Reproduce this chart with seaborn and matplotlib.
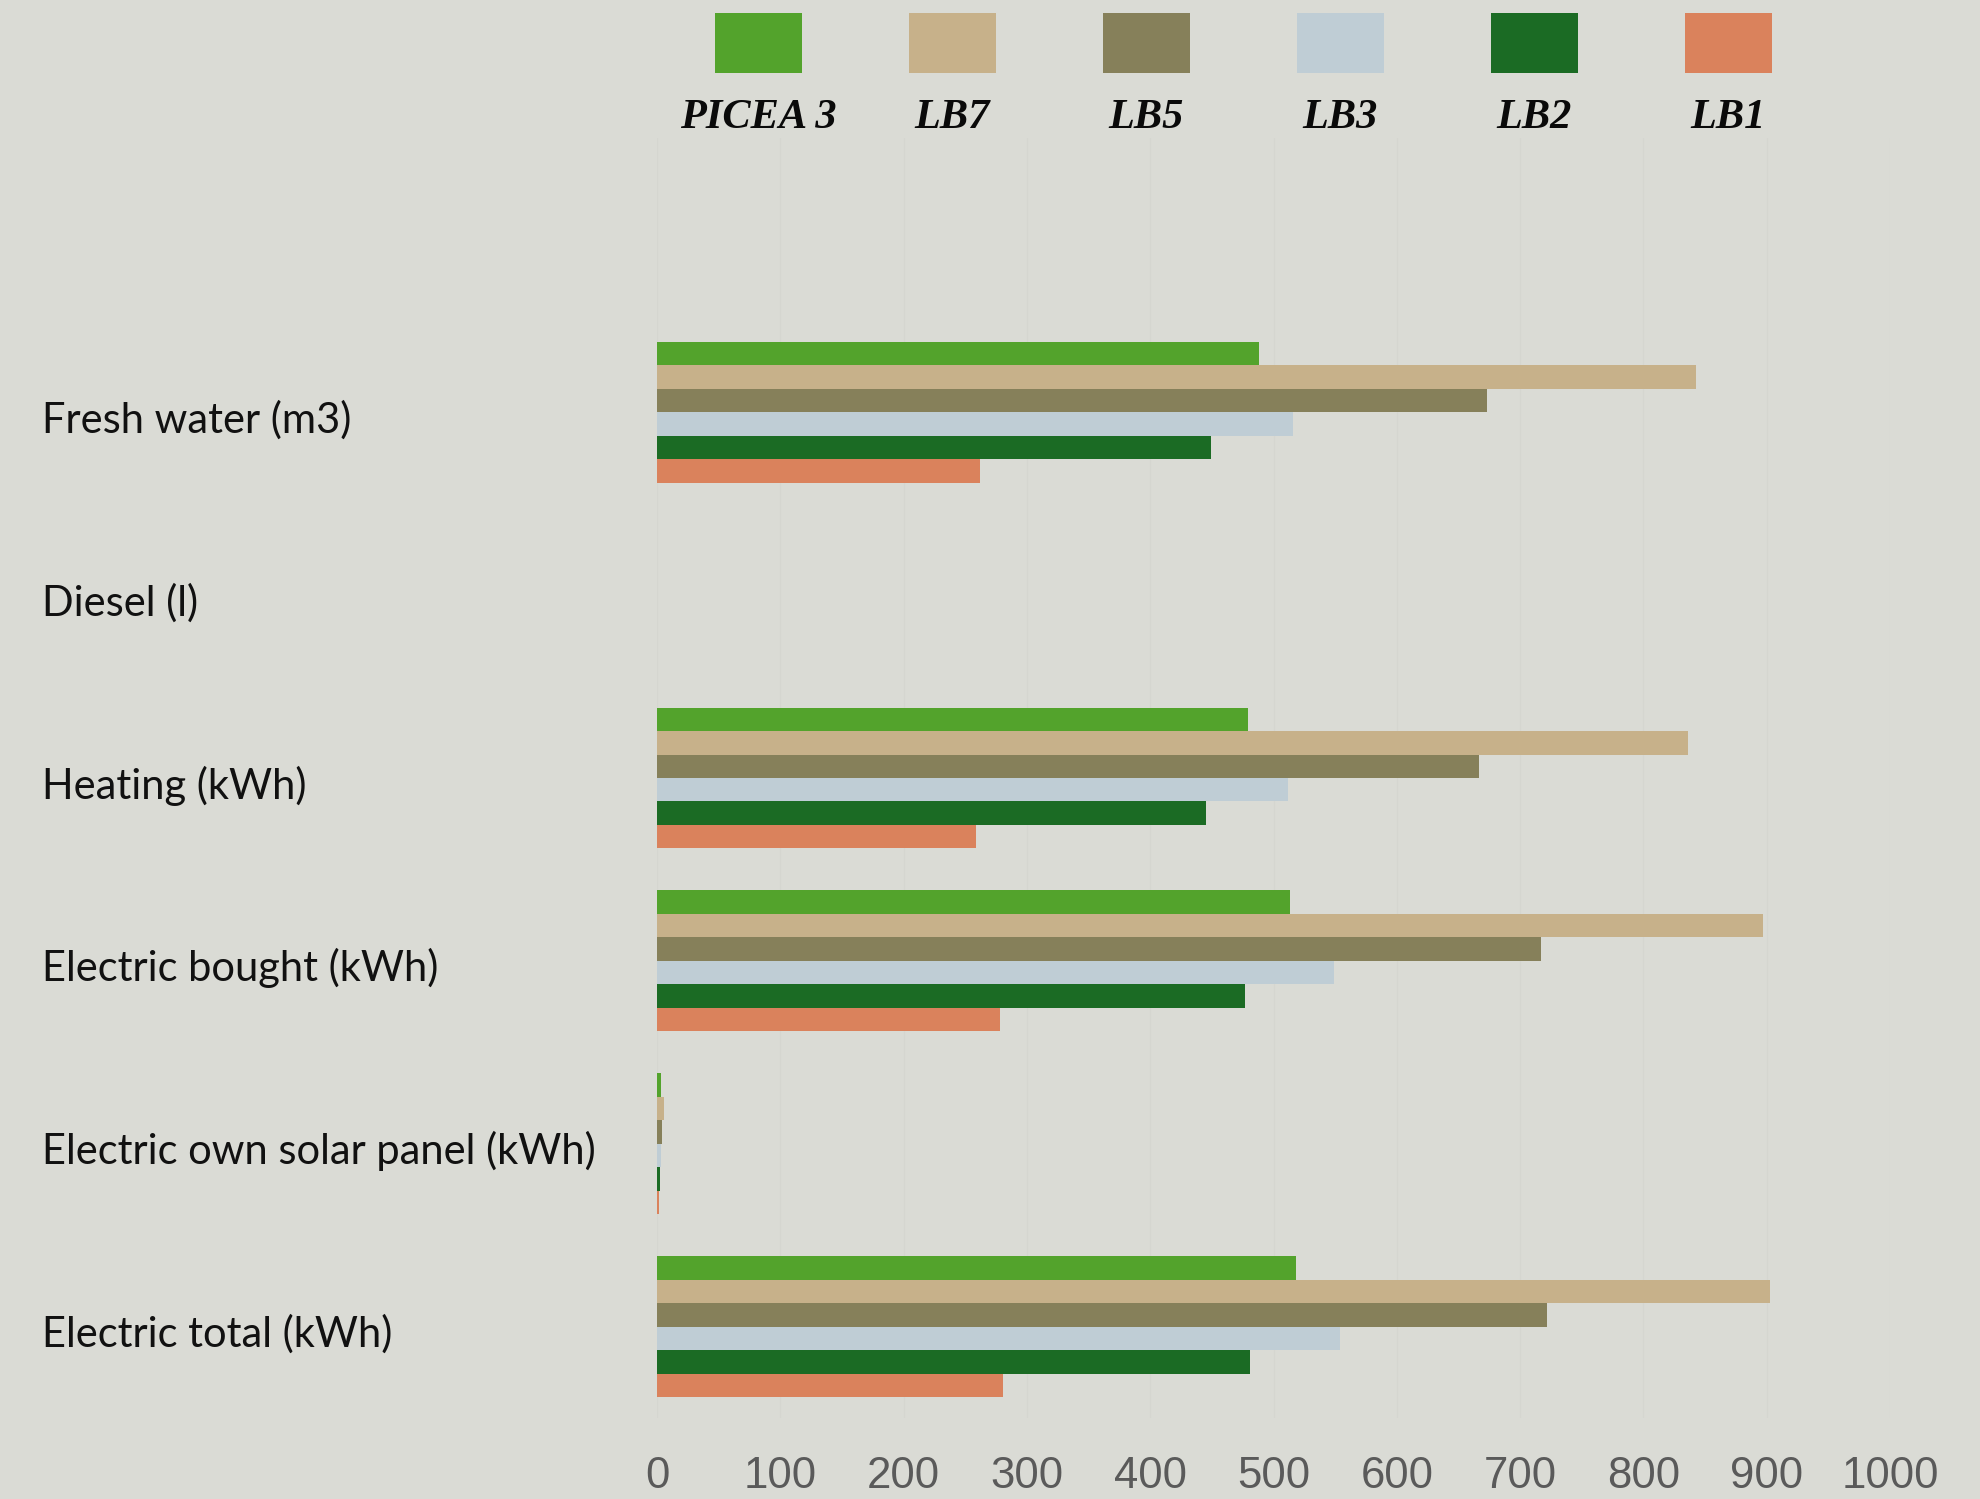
import matplotlib
matplotlib.use("Agg")
import matplotlib.pyplot as plt
from matplotlib.patches import Rectangle
from matplotlib.transforms import ScaledTranslation
import seaborn as sns
import pandas as pd

categories = ["Fresh water (m3)", "Diesel (l)", "Heating (kWh)", "Electric bought (kWh)",
              "Electric own solar panel (kWh)", "Electric total (kWh)"]
series = ["PICEA 3", "LB7", "LB5", "LB3", "LB2", "LB1"]
picea3 = [488, 0, 479, 513, 3.0, 518]
lb7 = [843, 0, 836, 897, 5.7, 903]
lb5 = [673, 0, 667, 717, 4.1, 722]
lb3 = [516, 0, 512, 549, 3.0, 554]
lb2 = [449, 0, 445, 477, 2.2, 481]
lb1 = [262, 0, 259, 278, 1.6, 281]
xticks = [0, 100, 200, 300, 400, 500, 600, 700, 800, 900, 1000]
colors = ["#53A32C", "#C7B18A", "#86805A", "#BFCDD5", "#1B6B24", "#DA825C"]

values = [picea3, lb7, lb5, lb3, lb2, lb1]
rows = []
for s, vals in zip(series, values):
    for c, v in zip(categories, vals):
        rows.append({"category": c, "series": s, "value": v})
df = pd.DataFrame(rows)

BG = "#DADBD5"
sns.set_theme(style="white")
W, H = 1981, 1499
fig = plt.figure(figsize=(W / 100, H / 100), dpi=100, facecolor=BG)
ax = fig.add_axes([657 / W, (H - 1418) / H, (1890 - 657) / W, (1418 - 138) / H])
ax.set_facecolor(BG)

sns.barplot(data=df, y="category", x="value", hue="series", order=categories,
            hue_order=series, palette=colors, orient="h", width=0.77,
            saturation=1, legend=False, ax=ax, linewidth=0)

ax.set_xlim(0, 1000)
ax.set_ylim(len(categories) - 0.5, -1.5)
ax.set_xticks(xticks)
ax.set_xticklabels([str(t) for t in xticks], family="Liberation Sans", fontsize=31.5, color="#5A5A5A")
ax.tick_params(axis="x", length=0, pad=27)
ax.tick_params(axis="y", length=0, pad=443)
offset = ScaledTranslation(0, -4 / 100, fig.dpi_scale_trans)
for lbl in ax.get_yticklabels():
    lbl.set_horizontalalignment("left")
    lbl.set_family(["Lato", "DejaVu Sans"])
    lbl.set_fontsize(30)
    lbl.set_color("#111111")
    lbl.set_transform(lbl.get_transform() + offset)
ax.set_xlabel("")
ax.set_ylabel("")
for sp in ax.spines.values():
    sp.set_visible(False)
ax.set_axisbelow(True)
ax.grid(axis="x", color="#D5D6D0", linewidth=1.0)
ax.grid(axis="y", visible=False)

# legend: swatch above label
centers = [758.6, 952.5, 1146.4, 1340.3, 1534.2, 1728.1]
for cx, s, col in zip(centers, series, colors):
    fig.add_artist(Rectangle(((cx - 43.5) / W, (H - 73) / H), 87 / W, 60 / H,
                             transform=fig.transFigure, facecolor=col, edgecolor="none"))
    fig.text(cx / W, (H - 118) / H, s, ha="center", va="center",
             family="Liberation Serif", fontweight="bold", fontstyle="italic",
             fontsize=30.5, color="#0A0A0A")

fig.savefig("out.png", dpi=100, facecolor=BG)
